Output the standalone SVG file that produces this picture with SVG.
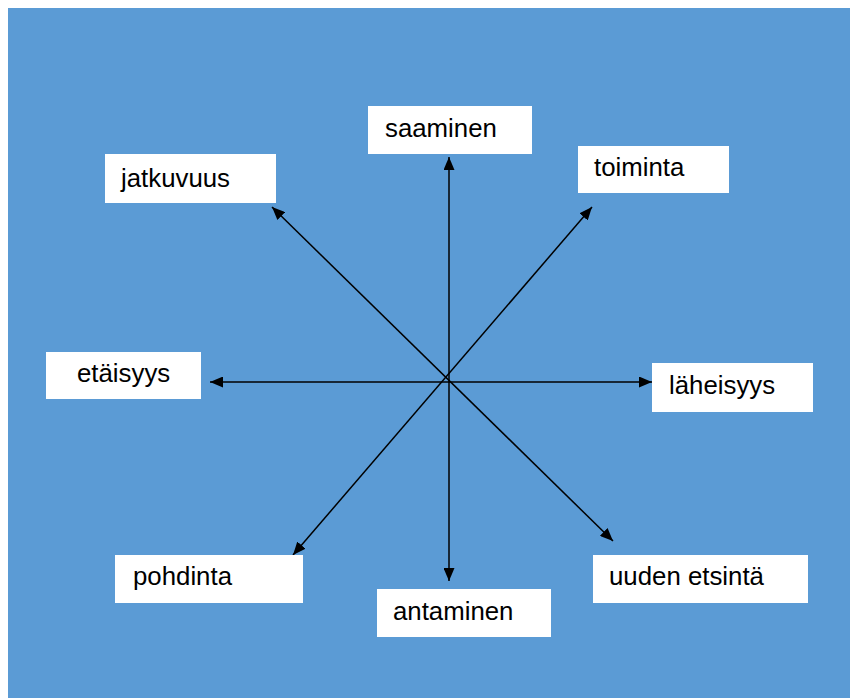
<svg xmlns="http://www.w3.org/2000/svg" width="850" height="698" viewBox="0 0 850 698">
  <style>
    .box { fill: #ffffff; }
    .label { font-family: "Liberation Sans", Arial, sans-serif; font-size: 25.8px; fill: #000000; }
    .link { stroke: #000000; stroke-width: 1.5; fill: none; marker-start: url(#head); marker-end: url(#head); }
  </style>
  <defs>
    <marker id="head" markerUnits="userSpaceOnUse" markerWidth="13" markerHeight="11" refX="13" refY="5.5" orient="auto-start-reverse">
      <path d="M0,0 L13,5.5 L0,11 z" fill="#000000"/>
    </marker>
  </defs>

  <rect x="8" y="8" width="842" height="690" fill="#5B9BD5"/>

  <g id="connectors">
    <line class="link" x1="449" y1="581" x2="449" y2="157"/>
    <line class="link" x1="210" y1="382" x2="652" y2="382"/>
    <line class="link" x1="613" y1="541" x2="272" y2="207"/>
    <line class="link" x1="293" y1="555" x2="592" y2="207"/>
  </g>

  <g id="saaminen">
    <rect class="box" x="368" y="106" width="164" height="48"/>
    <text class="label" x="385" y="137">saaminen</text>
  </g>
  <g id="jatkuvuus">
    <rect class="box" x="105" y="154" width="171" height="49"/>
    <text class="label" x="121" y="187">jatkuvuus</text>
  </g>
  <g id="toiminta">
    <rect class="box" x="578" y="146" width="151" height="47"/>
    <text class="label" x="594" y="176">toiminta</text>
  </g>
  <g id="etaisyys">
    <rect class="box" x="46" y="352" width="155" height="47"/>
    <text class="label" x="77" y="382">etäisyys</text>
  </g>
  <g id="laheisyys">
    <rect class="box" x="652" y="363" width="161" height="49"/>
    <text class="label" x="669" y="394">läheisyys</text>
  </g>
  <g id="pohdinta">
    <rect class="box" x="115" y="555" width="188" height="48"/>
    <text class="label" x="133" y="585">pohdinta</text>
  </g>
  <g id="antaminen">
    <rect class="box" x="377" y="589" width="174" height="48"/>
    <text class="label" x="393" y="620">antaminen</text>
  </g>
  <g id="uuden-etsinta">
    <rect class="box" x="593" y="555" width="215" height="48"/>
    <text class="label" x="609" y="585">uuden etsintä</text>
  </g>
</svg>
